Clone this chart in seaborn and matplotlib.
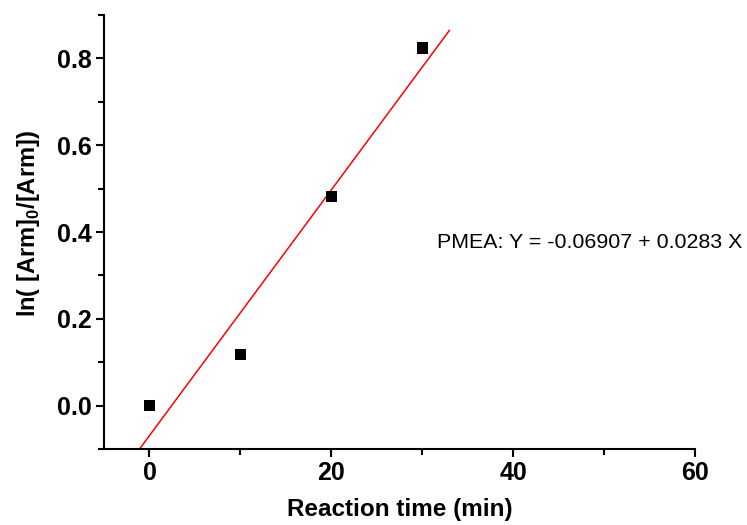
import numpy as np
import pandas as pd
import matplotlib
matplotlib.use("Agg")
import matplotlib.pyplot as plt
import seaborn as sns

# data
time_min = [0, 10, 20, 30]
ln_ratio = [0.0, 0.118, 0.482, 0.824]
fit_intercept = -0.06907
fit_slope = 0.0283
fit_x_range = [-1.1, 33.0]
fit_label = "PMEA: Y = -0.06907 + 0.0283 X"
x_ticks = [0, 20, 40, 60]
y_ticks = [0.0, 0.2, 0.4, 0.6, 0.8]

sns.set_theme(style="ticks")
plt.rcParams['font.family'] = ['Liberation Sans', 'DejaVu Sans']
plt.rcParams['mathtext.fontset'] = 'custom'
plt.rcParams['mathtext.rm'] = 'Liberation Sans'
plt.rcParams['mathtext.bf'] = 'Liberation Sans:bold'
for k in ['text.color', 'axes.labelcolor', 'xtick.color', 'ytick.color', 'axes.edgecolor']:
    plt.rcParams[k] = 'black'

fig = plt.figure(figsize=(7.47, 5.25), dpi=100)
ax = fig.add_axes([104/747, 1-449/525, (695-104)/747, (449-15)/525])

df = pd.DataFrame({"t": time_min, "y": ln_ratio})
sns.scatterplot(data=df, x="t", y="y", ax=ax, marker="s", s=64, color="black",
                edgecolor="none", zorder=3)

fx = np.array(fit_x_range)
fit_df = pd.DataFrame({"t": fx, "y": fit_intercept + fit_slope * fx})
sns.lineplot(data=fit_df, x="t", y="y", ax=ax, color="#ff0000", linewidth=1.1)

ax.set_xlim(-5, 60)
ax.set_ylim(-0.1, 0.9)
ax.set_xticks(x_ticks)
ax.set_yticks(y_ticks)
ax.set_xticks([10, 30, 50], minor=True)
ax.set_yticks([-0.1, 0.1, 0.3, 0.5, 0.7, 0.9], minor=True)
ax.set_yticklabels([f"{v:.1f}" for v in y_ticks])

for side in ["top", "right"]:
    ax.spines[side].set_visible(False)
for side in ["left", "bottom"]:
    ax.spines[side].set_linewidth(1.5)
    ax.spines[side].set_color("black")

ax.tick_params(which="major", direction="out", length=6, width=1.5, color="black",
               labelsize=18, pad=3)
ax.tick_params(which="minor", direction="out", length=4, width=1.5, color="black")
for lab in ax.get_xticklabels() + ax.get_yticklabels():
    lab.set_fontweight("bold")

ax.set_xlabel("Reaction time (min)", fontsize=17.5, fontweight="bold", labelpad=9)
ax.set_ylabel(r"ln( [Arm]$_{\mathbf{0}}$/[Arm])", fontsize=17, fontweight="bold")
ax.yaxis.set_label_coords(-0.105, 0.52)

ax.text(31.6, 0.376, fit_label, fontsize=15.4, ha="left", va="center", clip_on=False)

fig.savefig("out.png", dpi=100)
